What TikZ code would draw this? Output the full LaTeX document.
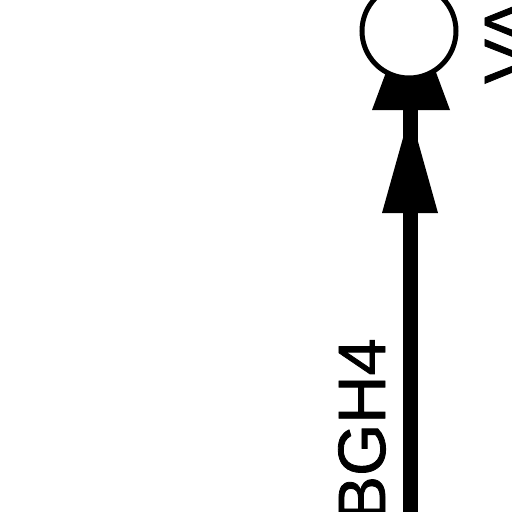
\documentclass[tikz,border=0pt]{standalone}
\usepackage{fontspec}
\setmainfont{Liberation Sans}
\newfontfamily\lblfont[FakeBold=1.2]{Liberation Sans}
\begin{document}
\begin{tikzpicture}[x=1pt,y=-1pt,
  lbl/.style={rotate=90,inner sep=0pt,font=\lblfont\fontsize{67}{67}\selectfont},
  head/.style={fill=black,draw=none}]
\useasboundingbox (0,0) rectangle (512,512);
\fill[white] (0,0) rectangle (512,512);
% lower line and arrow
\coordinate (bot) at (410,530);
\coordinate (top) at (410,105);
\draw[line width=15pt] (bot) -- (top);
\fill[head] (410,113) -- (438,213) -- (382,213) -- cycle;
% head under the circle
\fill[head] (411,5) -- (450,110) -- (372,110) -- cycle;
\node[circle,draw,line width=5pt,fill=white,minimum size=94pt,inner sep=0pt] (c) at (409,31) {};
% labels
\node[lbl,anchor=base east] (b) at (385,338) {BGH4};
\node[lbl,anchor=base west] (v) at (531,84) {VA};
\end{tikzpicture}
\end{document}
